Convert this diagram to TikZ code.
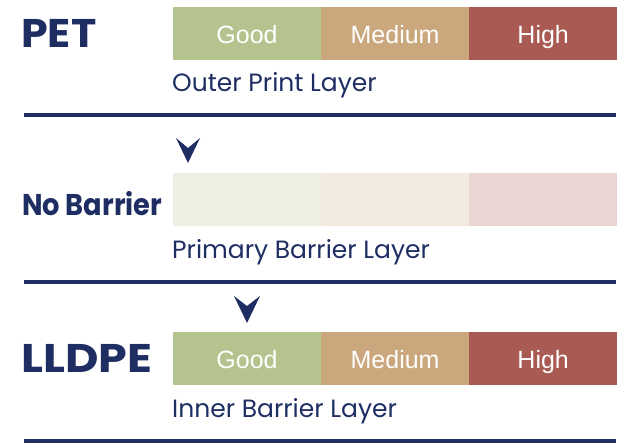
\documentclass[tikz,border=0pt]{standalone}
\usepackage{fontspec}
\setmainfont{Poppins}
\newfontfamily\barfont{Liberation Sans}
\begin{document}
\begin{tikzpicture}[x=1pt,y=-1pt,
  seg/.style={minimum width=147.67pt,minimum height=53pt,inner sep=0pt,anchor=north west,
    text=white,text height=19pt,text depth=0pt,font=\barfont\fontsize{25}{25}\selectfont},
  head/.style={anchor=west,inner sep=0pt,text=navy,font=\bfseries\fontsize{#1}{#1}\selectfont},
  layer/.style={anchor=west,inner sep=0pt,text=navy,font=\fontsize{25}{25}\selectfont},
  rule/.style={draw=navy,line width=4pt},
  chev/.style={fill=navy}]
\definecolor{navy}{HTML}{1E2D62}
\definecolor{cgood}{HTML}{B5C48E}
\definecolor{cmed}{HTML}{CBA77D}
\definecolor{chigh}{HTML}{A85A53}
\definecolor{lgood}{HTML}{EDF0E3}
\definecolor{lmed}{HTML}{F2E9DF}
\definecolor{lhigh}{HTML}{EAD5D3}
\useasboundingbox (0,0) rectangle (621,444);
% row 1
\node[head=40] (pet) at (21,33) {\scalebox{1.07}[1]{PET}};
\node[seg,fill=cgood] (g1) at (173,7) {Good};
\node[seg,fill=cmed] (m1) at (g1.north east) {Medium};
\node[seg,fill=chigh] (h1) at (m1.north east) {High};
\node[layer] (l1) at (172,85) {Outer Print Layer};
\coordinate (r1a) at (24,115);
\coordinate (r1b) at (616,115);
\draw[rule] (r1a) -- (r1b);
\fill[chev] (176,138) -- (188,148) -- (200,138) -- (188,163) -- cycle;
% row 2
\node[head=30] (nb) at (22,204) {\scalebox{0.91}[1]{No Barrier}};
\node[seg,fill=lgood] (g2) at (173,173) {};
\node[seg,fill=lmed] (m2) at (g2.north east) {};
\node[seg,fill=lhigh] (h2) at (m2.north east) {};
\node[layer] (l2) at (172,252) {Primary Barrier Layer};
\coordinate (r2a) at (24,282);
\coordinate (r2b) at (616,282);
\draw[rule] (r2a) -- (r2b);
\fill[chev] (234,296) -- (247,306) -- (260,296) -- (247,323) -- cycle;
% row 3
\node[head=40] (ll) at (21,358) {\scalebox{1.15}[1]{LLDPE}};
\node[seg,fill=cgood] (g3) at (173,332) {Good};
\node[seg,fill=cmed] (m3) at (g3.north east) {Medium};
\node[seg,fill=chigh] (h3) at (m3.north east) {High};
\node[layer] (l3) at (172,411) {Inner Barrier Layer};
\coordinate (r3a) at (24,441);
\coordinate (r3b) at (616,441);
\draw[rule] (r3a) -- (r3b);
\end{tikzpicture}
\end{document}
